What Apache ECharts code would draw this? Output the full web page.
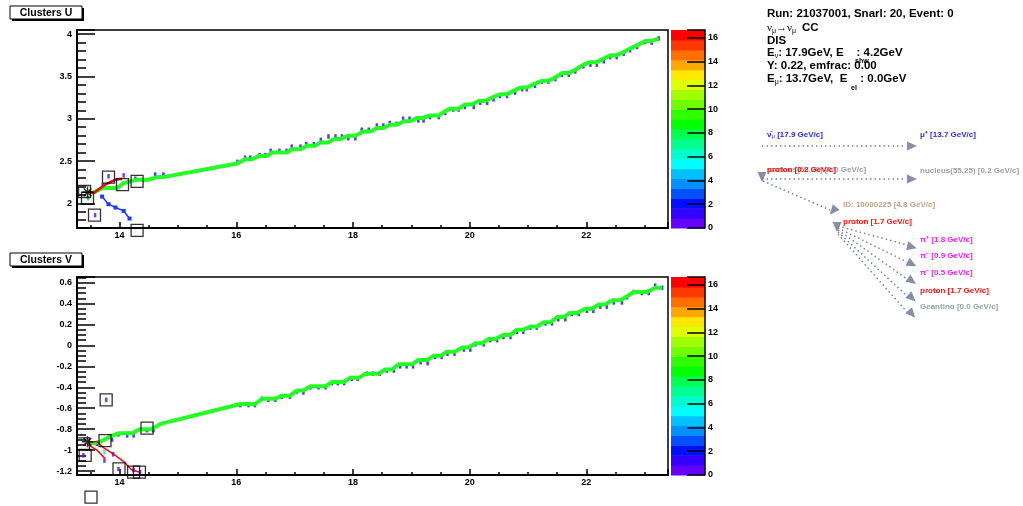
<!DOCTYPE html>
<html>
<head>
<meta charset="utf-8">
<script src="https://cdn.jsdelivr.net/npm/echarts@6/dist/echarts.min.js"></script>
<style>
html, body { margin: 0; padding: 0; background: #fff; }
#main { width: 1023px; height: 506px; }
</style>
</head>
<body>
<div id="main"></div>
<script>
// axis ranges
const xRange = [13.27, 23.40];
const uRange = [1.708, 4.05];
const vRange = [-1.238, 0.653];
const cbMax = 16.67;

// colour scale, bottom to top
const cbColors = ['#6600ff', '#3300ff', '#0010ff', '#0050ff', '#0090ff', '#00c0ff', '#00ffff',
  '#00ffcc', '#00ff90', '#00ff50', '#00ff00', '#30ff00', '#70ff00', '#a0ff00', '#e0ff00',
  '#ffe800', '#ffa800', '#ff7000', '#ff3800', '#ff0000'];

// ---- U view ----
const uTrack = [[13.53,2.12],[13.70,2.18],[13.96,2.18],[14.07,2.24],[14.30,2.28],[14.50,2.28],[14.64,2.31],[14.75,2.31],
  [16.01,2.47],[16.15,2.52],[16.27,2.52],[16.38,2.56],[16.53,2.56],[16.61,2.60],[16.87,2.60],[16.95,2.64],[17.10,2.64],
  [17.21,2.68],[17.35,2.68],[17.44,2.72],[17.58,2.72],[17.67,2.76],[17.78,2.76],[17.92,2.80],[18.04,2.80],[18.18,2.85],
  [18.30,2.85],[18.41,2.89],[18.52,2.89],[18.64,2.93],[18.75,2.93],[18.87,2.97],[18.98,2.97],[19.10,3.01],[19.21,3.01],
  [19.32,3.04],[19.47,3.04],[19.58,3.09],[19.67,3.12],[19.81,3.12],[19.92,3.17],[20.04,3.17],[20.15,3.21],[20.27,3.21],
  [20.41,3.26],[20.52,3.29],[20.64,3.29],[20.75,3.33],[20.87,3.37],[20.98,3.37],[21.10,3.41],[21.24,3.45],[21.35,3.45],
  [21.47,3.49],[21.58,3.54],[21.70,3.54],[21.81,3.58],[21.95,3.64],[22.07,3.67],[22.18,3.67],[22.29,3.71],[22.41,3.75],
  [22.52,3.75],[22.64,3.79],[22.75,3.83],[22.87,3.87],[23.01,3.92],[23.12,3.92],[23.24,3.95]];
const uHits = [[13.71,2.21],[14.27,2.29],[14.61,2.34],[14.75,2.34],[16.02,2.49],[16.15,2.54],[16.24,2.54],[16.40,2.57],
  [16.50,2.57],[16.59,2.62],[16.74,2.62],[16.86,2.62],[16.95,2.67],[17.10,2.67],[17.20,2.70],[17.33,2.70],[17.45,2.75],
  [17.58,2.79],[17.70,2.79],[17.81,2.79],[17.92,2.77],[18.04,2.77],[18.15,2.87],[18.27,2.87],[18.41,2.92],[18.52,2.92],
  [18.63,2.95],[18.75,2.94],[18.86,3.00],[18.97,3.00],[19.12,2.98],[19.21,2.98],[19.32,3.02],[19.47,3.02],[19.58,3.07],
  [19.72,3.11],[19.81,3.11],[19.92,3.14],[20.07,3.14],[20.18,3.19],[20.30,3.19],[20.41,3.23],[20.52,3.27],[20.64,3.27],
  [20.78,3.31],[20.90,3.35],[20.98,3.35],[21.12,3.39],[21.24,3.44],[21.35,3.44],[21.47,3.47],[21.58,3.52],[21.70,3.52],
  [21.81,3.56],[21.95,3.62],[22.07,3.64],[22.18,3.64],[22.30,3.68],[22.41,3.73],[22.52,3.73],[22.64,3.77],[22.75,3.81],
  [22.87,3.85],[23.01,3.91],[23.12,3.90],[23.24,3.95]];
const uHitsViolet = [[13.81,2.32],[14.07,2.33],[13.58,1.86]];
const uHitsGreen = [[13.46,2.06]];
const uShower = [[13.70,2.08],[13.81,1.99],[13.93,1.95],[14.07,1.91],[14.17,1.82]];
const uRed = [[13.47,2.14],[13.55,2.12],[13.75,2.22],[13.93,2.28],[14.04,2.29]];
const uBoxes = [[13.81,2.31],[14.05,2.22],[14.30,2.26],[13.45,2.06],[13.40,2.14],[13.57,1.86],[14.30,1.68]];
const uVertex = [[13.45,2.13]];

// ---- V view ----
const vTrack = [[13.50,-0.94],[13.67,-0.92],[13.84,-0.87],[13.98,-0.84],[14.21,-0.84],[14.35,-0.80],[14.55,-0.80],[14.70,-0.75],
  [16.07,-0.56],[16.21,-0.56],[16.32,-0.56],[16.44,-0.51],[16.67,-0.51],[16.78,-0.48],[16.92,-0.48],[17.04,-0.43],[17.15,-0.43],
  [17.27,-0.39],[17.53,-0.39],[17.64,-0.35],[17.84,-0.35],[17.95,-0.31],[18.10,-0.31],[18.21,-0.27],[18.44,-0.27],[18.55,-0.23],
  [18.67,-0.23],[18.78,-0.18],[19.01,-0.18],[19.12,-0.14],[19.27,-0.14],[19.38,-0.10],[19.50,-0.10],[19.61,-0.06],[19.75,-0.06],
  [19.87,-0.02],[19.98,-0.02],[20.10,0.02],[20.21,0.02],[20.32,0.06],[20.44,0.06],[20.58,0.10],[20.70,0.10],[20.81,0.15],
  [20.92,0.15],[21.04,0.18],[21.15,0.18],[21.27,0.22],[21.38,0.22],[21.50,0.27],[21.61,0.27],[21.72,0.31],[21.84,0.31],
  [21.98,0.35],[22.10,0.35],[22.21,0.39],[22.32,0.39],[22.44,0.43],[22.58,0.43],[22.70,0.47],[22.81,0.51],[23.04,0.51],
  [23.18,0.55],[23.30,0.55]];
const vHits = [[13.61,-0.94],[13.87,-0.90],[13.98,-0.85],[14.13,-0.86],[14.24,-0.86],[14.47,-0.81],[14.58,-0.81],[13.89,-1.04],
  [14.24,-1.19],[14.35,-1.21],[16.07,-0.57],[16.21,-0.57],[16.32,-0.57],[16.44,-0.51],[16.55,-0.52],[16.67,-0.52],[16.78,-0.49],
  [16.92,-0.49],[17.04,-0.44],[17.15,-0.45],[17.27,-0.40],[17.41,-0.40],[17.53,-0.40],[17.64,-0.36],[17.74,-0.36],[17.85,-0.36],
  [17.98,-0.32],[18.08,-0.32],[18.24,-0.27],[18.34,-0.27],[18.46,-0.27],[18.58,-0.24],[18.70,-0.24],[18.81,-0.20],[18.92,-0.20],
  [19.03,-0.20],[19.16,-0.16],[19.28,-0.17],[19.41,-0.11],[19.52,-0.11],[19.62,-0.08],[19.74,-0.08],[19.90,-0.04],[20.01,-0.04],
  [20.10,0.01],[20.24,0.01],[20.35,0.05],[20.47,0.05],[20.58,0.08],[20.70,0.08],[20.81,0.13],[20.92,0.13],[21.04,0.17],
  [21.15,0.17],[21.30,0.21],[21.41,0.21],[21.52,0.25],[21.64,0.25],[21.75,0.30],[21.87,0.30],[22.01,0.33],[22.12,0.33],
  [22.24,0.37],[22.35,0.37],[22.47,0.41],[22.61,0.41],[22.70,0.46],[22.81,0.51],[22.95,0.50],[23.07,0.50],[23.18,0.57],[23.30,0.55]];
const vHitsViolet = [[13.77,-0.52],[13.38,-1.05],[13.74,-1.10],[13.98,-1.18]];
const vHitsCyan = [[13.74,-1.02]];
const vRedA = [[13.47,-0.92],[13.61,-0.92],[13.73,-0.98],[13.90,-1.04],[14.07,-1.11],[14.21,-1.19],[14.33,-1.21]];
const vRedB = [[13.44,-0.94],[13.61,-1.00],[13.75,-1.08]];
const vBoxes = [[13.77,-0.52],[13.75,-0.91],[14.47,-0.79],[13.38,-0.94],[13.41,-1.05],[13.99,-1.18],[14.24,-1.21],[14.34,-1.21],[13.51,-1.45]];
const vVertex = [[13.45,-0.92]];

// ---- particle tree (page pixels) ----
const treeLines = [
  [[762,146],[906,146]], [[762,179],[906,179]], [[763,181],[830,210]],
  [[838,226],[907,245]], [[838,228],[907,262]], [[838,230],[907,279]], [[838,232],[907,296]], [[838,234],[907,312]]
];
const treeHeads = [[912,146],[912,179],[912,247],[912,264],[912,281],[912,298],[912,314]];
const treeVerts = [[762,177,180],[833,211,140],[837,227,180]];
const treeLabels = [
  ['{m|ν\u0304}{s|μ}{m| [17.9 GeV/c]}', 767, 135, '#2b2bea'],
  ['μ⁺ [13.7 GeV/c]', 920, 135, '#2b2bea'],
  ['nucleus(56,26) [0.0 GeV/c]', 767, 170, '#a0a0a0'],
  ['proton [0.2 GeV/c]', 767, 170, '#ff1010'],
  ['nucleus(55,25) [0.2 GeV/c]', 920, 171, '#a0a0a0'],
  ['ID: 10000225 [4.8 GeV/c]', 843, 205, '#c4a184'],
  ['proton [1.7 GeV/c]', 843, 222, '#ff1010'],
  ['π⁺ [1.8 GeV/c]', 920, 240, '#f020f0'],
  ['π⁻ [0.9 GeV/c]', 920, 256, '#f020f0'],
  ['π⁻ [0.5 GeV/c]', 920, 273, '#f020f0'],
  ['proton [1.7 GeV/c]', 920, 291, '#ff1010'],
  ['Geantino [0.0 GeV/c]', 920, 307, '#8fa898']
];

const FONT = 'Liberation Sans, Helvetica, Arial, sans-serif';

const chart = echarts.init(document.getElementById('main'), null, {renderer: 'canvas'});

function stepFormatter(step) {
  return v => {
    const k = v / step;
    return Math.abs(k - Math.round(k)) < 1e-6 ? String(+v.toFixed(2)) : '';
  };
}
function majorAxis(grid, range, step, split, tickLen, isY) {
  return {
    type: 'value', gridIndex: grid, min: range[0], max: range[1],
    splitNumber: split, minInterval: step, maxInterval: step,
    position: isY ? 'left' : 'bottom',
    axisLine: {onZero: false, lineStyle: {color: '#000', width: 2}},
    axisTick: {inside: true, length: tickLen, lineStyle: {color: '#000', width: 1.5}},
    axisLabel: {color: '#000', fontFamily: FONT, fontWeight: 'bold', fontSize: 9,
      margin: isY ? 5 : 3, formatter: stepFormatter(step), showMinLabel: true, showMaxLabel: true},
    splitLine: {show: false}
  };
}
function minorAxis(grid, range, step, split, tickLen, isY) {
  return {
    type: 'value', gridIndex: grid, min: range[0], max: range[1],
    splitNumber: split, minInterval: step, maxInterval: step,
    position: isY ? 'left' : 'bottom',
    axisLine: {show: false, onZero: false},
    axisTick: {inside: true, length: tickLen, lineStyle: {color: '#000', width: 1.5}},
    axisLabel: {show: false},
    splitLine: {show: false}
  };
}
function cbYAxis(grid) {
  return {
    type: 'value', gridIndex: grid, min: 0, max: cbMax, interval: 2, position: 'right', z: 10,
    axisLine: {show: true, onZero: false, lineStyle: {color: '#000', width: 1.5}},
    axisTick: {inside: true, length: 18, lineStyle: {color: '#000', width: 1.5}},
    axisLabel: {color: '#000', fontFamily: FONT, fontWeight: 'bold', fontSize: 9, margin: 3,
      formatter: stepFormatter(2)},
    splitLine: {show: false}
  };
}
function hidden(grid, min, max, inverse) {
  return {type: 'value', gridIndex: grid, min: min, max: max, inverse: !!inverse, show: false,
    axisLine: {onZero: false}, splitLine: {show: false}};
}

const cbData = cbColors.map((c, i) => [i * cbMax / cbColors.length, (i + 1) * cbMax / cbColors.length]);
function cbSeries(ax) {
  return {
    type: 'custom', xAxisIndex: ax, yAxisIndex: ax, data: cbData, silent: true, z: 1,
    renderItem: (params, api) => {
      const p0 = api.coord([0, api.value(0)]);
      const p1 = api.coord([1, api.value(1)]);
      return {type: 'rect', shape: {x: p0[0], y: p1[1], width: p1[0] - p0[0], height: p0[1] - p1[1] + 0.6},
        style: {fill: cbColors[params.dataIndex]}};
    }
  };
}
function track(ax, data) {
  return {type: 'line', xAxisIndex: ax, yAxisIndex: ax, data: data, showSymbol: false, z: 3,
    lineStyle: {color: '#22ff22', width: 4}};
}
function hits(ax, data, color) {
  return {type: 'scatter', xAxisIndex: ax, yAxisIndex: ax, data: data, symbol: 'rect', symbolSize: [2.5, 4.5],
    itemStyle: {color: color}, z: 2, clip: false};
}
function thinLine(ax, data, color, w, sym) {
  return {type: 'line', xAxisIndex: ax, yAxisIndex: ax, data: data, z: 4,
    showSymbol: !!sym, symbol: 'rect', symbolSize: 4, itemStyle: {color: color},
    lineStyle: {color: color, width: w}};
}
function boxes(ax, data) {
  return {type: 'scatter', xAxisIndex: ax, yAxisIndex: ax, data: data, symbol: 'rect', symbolSize: 12, z: 5, clip: false,
    itemStyle: {color: 'rgba(0,0,0,0)', borderColor: '#000', borderWidth: 1.3}};
}
function star(ax, data) {
  return {type: 'scatter', xAxisIndex: ax, yAxisIndex: ax, data: data, z: 6,
    symbol: 'path://M5,0L5,10M0,5L10,5M1.5,1.5L8.5,8.5M1.5,8.5L8.5,1.5', symbolSize: 11,
    itemStyle: {color: 'rgba(0,0,0,0)', borderColor: '#000', borderWidth: 1.5}};
}

function titleBox(y, label) {
  return {type: 'group', children: [
    {type: 'rect', shape: {x: 12, y: y + 2, width: 72, height: 13}, style: {fill: '#000'}},
    {type: 'rect', shape: {x: 10, y: y, width: 72, height: 13}, style: {fill: '#fff', stroke: '#000', lineWidth: 1}},
    {type: 'text', x: 46, y: y + 7, style: {text: label, font: 'bold 10.5px ' + FONT, fill: '#000',
      align: 'center', verticalAlign: 'middle'}}
  ]};
}

const infoRich = {
  b: {fontFamily: FONT, fontWeight: 'bold', fontSize: 11.5, lineHeight: 14, color: '#000'},
  g: {fontFamily: 'Liberation Serif, serif', fontSize: 11, lineHeight: 14, color: '#000'},
  s: {fontFamily: FONT, fontSize: 7, lineHeight: 7, verticalAlign: 'bottom', color: '#000'},
  gap: {width: 13, lineHeight: 14},
  sp: {width: 6, lineHeight: 14}
};
const infoLines = [
  ['{b|Run: 21037001, Snarl: 20, Event: 0}', 14],
  ['{g|ν}{s|μ}{g|→ν}{s|μ}{sp|}{b|CC}', 28],
  ['{b|DIS}', 41],
  ['{b|E}{s|ν}{b|: 17.9GeV, E}{gap|}{b|: 4.2GeV}', 53],
  ['{b|Y: 0.22, emfrac: 0.00}', 66],
  ['{b|E}{s|μ}{b|: 13.7GeV,  E}{gap|}{b|: 0.0GeV}', 79]
];
const graphics = [titleBox(6, 'Clusters U'), titleBox(253, 'Clusters V')];
infoLines.forEach(l => graphics.push({type: 'text', x: 767, y: l[1],
  style: {text: l[0], rich: infoRich, verticalAlign: 'middle'}}));
graphics.push({type: 'text', x: 855, y: 61, style: {text: 'shw', font: 'bold 7px ' + FONT, fill: '#000', verticalAlign: 'middle'}});
graphics.push({type: 'text', x: 851, y: 88, style: {text: 'el', font: 'bold 7px ' + FONT, fill: '#000', verticalAlign: 'middle'}});
treeLabels.forEach(l => graphics.push({type: 'text', x: l[1], y: l[2], z: 10,
  style: {text: l[0], fill: l[3], font: 'bold 8px ' + FONT, verticalAlign: 'middle',
    rich: {m: {fontFamily: FONT, fontWeight: 'bold', fontSize: 8, color: l[3]},
      s: {fontFamily: FONT, fontSize: 6, verticalAlign: 'bottom', lineHeight: 6, color: l[3]}}}}));

const headData = treeHeads.map((h, i) => {
  const ln = treeLines[i < 2 ? i : i + 1];
  const ang = Math.atan2(ln[1][1] - ln[0][1], ln[1][0] - ln[0][0]) * 180 / Math.PI;
  return {value: h, symbolRotate: -90 - ang};
});
const vertData = treeVerts.map(v => ({value: [v[0], v[1]], symbolRotate: v[2]}));

const option = {
  animation: false,
  backgroundColor: '#fff',
  grid: [
    {left: 77, top: 30, width: 591, height: 198, show: true, borderColor: '#000', borderWidth: 1.5, backgroundColor: 'rgba(0,0,0,0)'},
    {left: 77, top: 277, width: 591, height: 198, show: true, borderColor: '#000', borderWidth: 1.5, backgroundColor: 'rgba(0,0,0,0)'},
    {left: 671, top: 30, width: 34, height: 198},
    {left: 671, top: 277, width: 34, height: 198},
    {left: 0, top: 0, width: 1023, height: 506}
  ],
  xAxis: [
    majorAxis(0, xRange, 2, 6, 6, false),
    minorAxis(0, xRange, 0.5, 25, 3, false),
    majorAxis(1, xRange, 2, 6, 6, false),
    minorAxis(1, xRange, 0.5, 25, 3, false),
    hidden(2, 0, 1), hidden(3, 0, 1), hidden(4, 0, 1023)
  ],
  yAxis: [
    majorAxis(0, uRange, 0.5, 5, 18, true),
    minorAxis(0, uRange, 0.1, 30, 9, true),
    majorAxis(1, vRange, 0.2, 10, 18, true),
    minorAxis(1, vRange, 0.05, 45, 9, true),
    cbYAxis(2), cbYAxis(3), hidden(4, 0, 506, true)
  ],
  graphic: graphics,
  series: [
    // U view
    hits(0, uHits, '#2a08ff'),
    hits(0, uHitsViolet, '#6a00ff'),
    hits(0, uHitsGreen, '#00dd30'),
    track(0, uTrack),
    thinLine(0, uShower, '#1a3cff', 1.5, true),
    thinLine(0, uRed, '#ff0000', 2.5, false),
    boxes(0, uBoxes),
    star(0, uVertex),
    // V view
    hits(2, vHits, '#2a08ff'),
    hits(2, vHitsViolet, '#6a00ff'),
    hits(2, vHitsCyan, '#00e8ff'),
    track(2, vTrack),
    thinLine(2, vRedA, '#ff0000', 1.5, false),
    thinLine(2, vRedB, '#ff0000', 1.5, false),
    boxes(2, vBoxes),
    star(2, vVertex),
    // colour scales
    cbSeries(4), cbSeries(5),
    // particle tree
    {type: 'lines', coordinateSystem: 'cartesian2d', xAxisIndex: 6, yAxisIndex: 6, silent: true,
      data: treeLines.map(c => ({coords: c})),
      lineStyle: {color: '#7a80a6', width: 1.5, type: [1.5, 3], opacity: 1}},
    {type: 'scatter', xAxisIndex: 6, yAxisIndex: 6, data: headData, symbol: 'triangle', symbolSize: [9, 10],
      itemStyle: {color: '#6b7090'}, silent: true},
    {type: 'scatter', xAxisIndex: 6, yAxisIndex: 6, data: vertData, symbol: 'triangle', symbolSize: [9, 10],
      itemStyle: {color: '#6b7090'}, silent: true}
  ]
};
chart.setOption(option);
</script>
</body>
</html>
